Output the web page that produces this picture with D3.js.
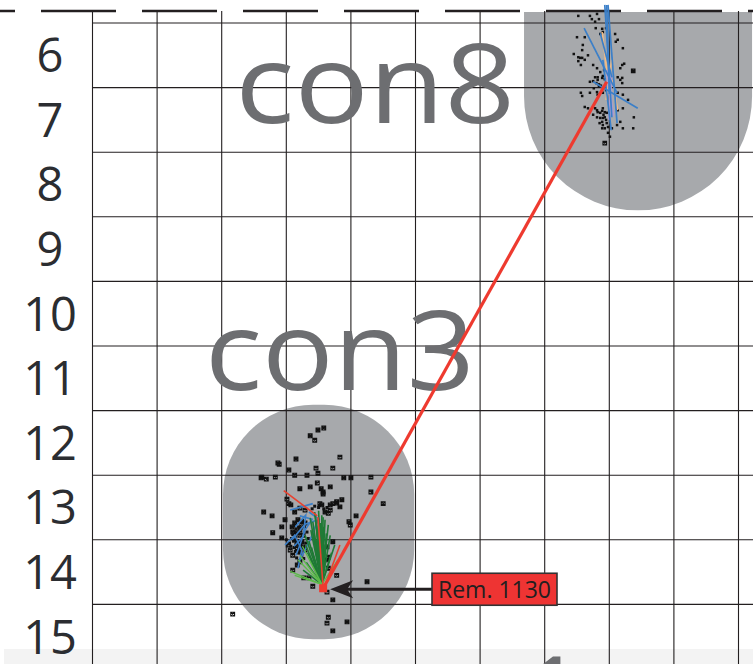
<!DOCTYPE html>
<html>
<head>
<meta charset="utf-8">
<script src="https://cdn.jsdelivr.net/npm/d3@7"></script>
<style>
  body { margin: 0; background: #fff; }
  svg { display: block; font-family: "Open Sans", "DejaVu Sans", sans-serif; }
</style>
</head>
<body>
<div id="chart"></div>
<script>
// grid rows shown on the left, columns are unlabeled (cut off above)
var rowLabels = [6, 7, 8, 9, 10, 11, 12, 13, 14, 15];
var colLines = [0, 1, 2, 3, 4, 5, 6, 7, 8, 9, 10];

// area labels
var areaNames = ["con8", "con3", "con1"];

// con8 cluster : [col, row]
var con8Points = [
  [7.52,5.39],[7.70,5.39],[7.73,5.44],[7.81,5.36],[7.78,5.48],[7.84,5.44],[7.79,5.58],[7.89,5.59],
  [7.95,5.58],[7.90,5.64],[7.86,5.67],[7.50,5.72],[7.62,5.72],[8.09,5.67],[8.13,5.76],[8.10,5.79],
  [7.59,5.84],[7.58,5.92],[8.21,5.89],[7.45,5.98],[7.52,6.03],[7.55,6.04],[7.58,6.04],[7.52,6.09],
  [7.56,6.15],[7.75,6.15],[7.81,6.20],[8.20,6.15],[8.23,6.13],[8.17,6.20],[7.78,6.34],[7.82,6.34],
  [7.89,6.35],[7.90,6.32],[8.13,6.34],[8.20,6.35],[7.70,6.41],[7.75,6.40],[7.82,6.38],[7.93,6.37],
  [8.17,6.38],[8.20,6.43],[7.56,6.58],[7.58,6.63],[7.70,6.58],[7.81,6.57],[7.82,6.61],[7.90,6.58],
  [8.13,6.58],[8.21,6.61],[8.29,6.69],[7.62,6.80],[7.67,6.82],[7.78,6.82],[7.81,6.85],[7.82,6.88],
  [7.86,6.89],[7.89,6.86],[7.90,6.82],[7.93,6.88],[7.96,6.89],[7.75,6.92],[7.81,6.96],[7.86,6.97],
  [7.90,6.97],[7.93,6.96],[8.13,6.85],[8.21,6.82],[8.38,6.96],[7.89,7.03],[7.90,7.08],[7.96,7.05],
  [7.98,7.11],[7.93,7.13],[7.89,7.13],[8.04,7.13],[8.12,7.08],[8.17,7.03],[8.37,7.13],[8.21,7.13],
  [7.98,7.20],[8.01,7.26],[7.86,6.26],[7.92,6.23],[7.84,6.48],[7.76,6.51],[7.95,6.54],[7.67,6.00],
  [7.62,6.07],[7.84,6.45],[7.80,6.43],[7.87,6.47],[7.91,6.92],[7.95,7.00],[7.85,7.05]
];
var con8Crosses = [[8.37,6.24],[7.93,7.36]];

// con8 tracks
var con8Blue = [
  [[7.98,5.22],[8.12,7.05]], [[7.93,5.22],[8.04,6.96]], [[7.61,5.58],[8.12,6.58]],
  [[7.75,6.41],[8.44,6.82]], [[7.86,5.66],[8.04,6.34]], [[7.90,6.07],[8.03,7.16]],
  [[7.96,5.22],[8.00,6.60]]
];
var con8Orange = [
  [[7.89,5.64],[8.01,6.65]], [[8.04,6.07],[7.95,6.69]], [[8.05,6.38],[8.13,6.85]]
];
var con8Violet = [
  [[7.96,6.23],[8.06,6.93]], [[8.03,6.30],[8.00,7.00]], [[7.99,6.45],[8.05,6.95]]
];

// con3 cluster
var con3Points = [
  [3.49,11.80],[3.58,11.77],[3.37,11.89],[3.44,11.96],[2.89,12.33],[3.15,12.25],[3.83,12.22],[3.04,12.42],
  [3.46,12.39],[3.49,12.47],[3.72,12.39],[2.62,12.53],[2.69,12.56],[2.83,12.53],[3.13,12.50],[3.32,12.50],
  [3.89,12.54],[4.00,12.54],[4.31,12.53],[3.21,12.71],[3.37,12.68],[3.48,12.62],[3.54,12.71],[3.57,12.76],
  [3.57,12.79],[3.68,12.68],[4.31,12.76],[3.01,12.87],[3.04,12.94],[3.78,12.91],[3.86,12.88],[3.72,12.94],
  [3.52,12.94],[4.50,12.94],[2.65,13.07],[2.78,13.13],[3.07,12.96],[3.55,12.96],[3.68,12.96],[3.78,12.93],
  [3.83,12.99],[3.60,13.07],[3.65,13.09],[3.68,13.04],[4.08,13.13],[3.97,13.22],[3.99,13.27],[2.93,13.30],
  [3.09,13.30],[3.13,13.24],[3.18,13.19],[3.24,13.26],[3.29,13.24],[2.79,13.39],[3.10,13.38],[3.17,13.39],
  [3.21,13.35],[3.21,13.43],[3.26,13.43],[2.93,13.47],[3.13,13.50],[3.17,13.55],[3.18,13.53],[3.21,13.58],
  [3.24,13.53],[3.26,13.61],[3.17,13.63],[3.21,13.69],[3.29,13.66],[3.72,13.53],[3.63,13.61],[3.10,13.74],
  [3.65,13.77],[3.63,13.81],[3.17,13.89],[3.21,13.84],[3.10,13.97],[3.65,13.94],[3.78,14.05],[3.35,14.09],
  [3.27,14.09],[4.25,14.15],[3.41,14.22],[3.63,14.31],[3.72,14.43],[3.94,14.77],[3.65,14.70],[3.63,14.79],
  [3.72,14.91],[2.17,14.65],[2.87,12.31],[2.61,12.54],[3.21,13.01],[3.29,13.04],[3.13,13.07],[3.03,13.58],
  [3.06,13.66],[2.98,13.19]
];
// dense small dots inside the con3 cluster
var con3Dots = [
  [3.12,13.28],[3.15,13.33],[3.19,13.30],[3.23,13.32],[3.14,13.45],[3.11,13.52],[3.15,13.57],[3.20,13.62],
  [3.08,13.48],[3.05,13.55],[3.12,13.62],[3.19,13.70],[3.24,13.74],[3.16,13.78],[3.27,13.79],[3.30,13.55],
  [3.34,13.48],[3.32,13.38],[3.28,13.30],[3.25,13.20],[3.44,12.98],[3.50,13.00],[3.58,13.02],[3.63,13.00],
  [3.40,13.02],[3.10,13.42],[3.00,13.50],[3.07,13.60],[3.14,13.68]
];

// con3 tracks
var con3Green = [
  [3.37,13.16],[3.44,13.07],[3.49,13.19],[3.55,13.12],[3.60,13.19],[3.65,13.27],[3.68,13.43],[3.38,13.35],
  [3.30,13.58],[3.26,13.97],[3.37,13.81],[3.52,13.35],[3.75,13.58],[3.29,13.43],[3.46,13.50],[3.41,13.22],
  [3.58,13.30],[3.50,13.05],[3.33,13.70],[3.62,13.50],[3.47,13.28],[3.53,13.24],[3.42,13.40],[3.35,13.52],
  [3.57,13.15],[3.45,13.12],[3.39,13.62],[3.62,13.40],[3.31,13.85],[3.70,13.70]
];
var con3LightGreen = [[3.18,13.81],[3.06,13.99],[3.21,13.74],[3.13,14.05],[3.80,13.81],[3.25,13.60]];
var con3Blue = [
  [[3.06,13.04],[3.41,12.94]],
  [[3.21,13.13],[3.40,13.18],[3.29,13.35],[3.21,13.58],[3.15,13.74]],
  [[3.09,13.50],[3.29,13.26],[3.49,13.19],[3.37,13.50],[3.21,13.81]],
  [[2.98,13.58],[3.13,13.43],[3.24,13.66],[3.18,13.94]],
  [[3.35,13.07],[3.52,13.19]],
  [[3.14,13.30],[3.30,13.12],[3.26,13.45],[3.12,13.60]]
];
var con3Red = [
  [[2.96,12.74],[3.48,13.13]],
  [[3.49,13.15],[3.57,14.23]],
  [[3.83,13.58],[3.60,14.21]]
];

// remote track : rem. 1130
var remLabel = "Rem. 1130";
var remFrom = [3.57, 14.25];
var remTo = [7.96, 6.41];

var W = 753, H = 664;

var svg = d3.select("#chart").append("svg")
    .attr("width", W).attr("height", H);

var x = d3.scaleLinear().domain([0, 10]).range([92.5, 738.5]);
var y = d3.scaleLinear().domain([5.5, 15.5]).range([23, 669]);

// light band at the bottom
svg.append("rect")
    .attr("x", 4).attr("y", 649).attr("width", W).attr("height", H - 649)
    .attr("fill", "#f3f3f3");

// gray zones
var r8 = (x(10.21) - x(6.68)) / 2;
var top8 = 12, bot8 = y(8.40);
svg.append("path")
    .attr("d", "M" + x(6.68) + "," + top8 + "H" + x(10.21) + "V" + (bot8 - r8) +
         "A" + r8 + "," + r8 + " 0 0 1 " + x(6.68) + "," + (bot8 - r8) + "Z")
    .attr("fill", "#a7a9ac");

svg.append("rect")
    .attr("x", x(2.02)).attr("y", y(11.41))
    .attr("width", x(4.98) - x(2.02)).attr("height", y(15.04) - y(11.41))
    .attr("rx", 90).attr("ry", 90)
    .attr("fill", "#a7a9ac");

// grid
var g = svg.append("g").attr("stroke", "#231f20").attr("stroke-width", 1.1);
g.selectAll(".v").data(colLines).enter().append("line")
    .attr("x1", function(d) { return x(d); }).attr("x2", function(d) { return x(d); })
    .attr("y1", 11).attr("y2", H);
g.selectAll(".h").data(rowLabels).enter().append("line")
    .attr("x1", x(0)).attr("x2", W)
    .attr("y1", function(d) { return y(d - 0.5); })
    .attr("y2", function(d) { return y(d - 0.5); });

// dashed border on top
svg.append("line")
    .attr("x1", -60).attr("x2", W).attr("y1", 11).attr("y2", 11)
    .attr("stroke", "#231f20").attr("stroke-width", 2.6)
    .attr("stroke-dasharray", "75 26");

// row labels
svg.selectAll(".rowlab").data(rowLabels).enter().append("text")
    .attr("x", 50).attr("y", function(d) { return y(d); })
    .attr("dy", "0.36em")
    .attr("text-anchor", "middle")
    .attr("font-size", 47)
    .attr("fill", "#2b2d31")
    .text(function(d) { return d; });

// big area names
var namePos = [[2.21, 7.05, 280], [1.74, 11.18, 270], [7.62, 16.52, 0]];
areaNames.forEach(function(n, i) {
    var t = svg.append("text")
        .attr("x", x(namePos[i][0])).attr("y", y(namePos[i][1]))
        .attr("font-size", 110)
        .attr("fill", "#6d6e71")
        .text(n);
    if (namePos[i][2]) t.attr("textLength", namePos[i][2]).attr("lengthAdjust", "spacingAndGlyphs");
    else t.attr("text-anchor", "end");
});

// con8 points
function dots(data, s) {
    svg.append("g").selectAll("rect").data(data).enter().append("rect")
        .attr("x", function(d) { return x(d[0]) - s / 2; })
        .attr("y", function(d) { return y(d[1]) - s / 2; })
        .attr("width", s).attr("height", s)
        .attr("fill", "#111");
}
dots(con8Points, 2.5);

function crossMark(sel, data, s) {
    sel.append("g").selectAll("path").data(data).enter().append("path")
        .attr("d", function(d) {
            var cx = x(d[0]), cy = y(d[1]);
            return "M" + (cx - s) + "," + (cy - s) + "h" + 2 * s + "v" + 2 * s + "h" + (-2 * s) + "Z" +
                   "M" + (cx - s) + "," + (cy - s) + "L" + (cx + s) + "," + (cy + s) +
                   "M" + (cx + s) + "," + (cy - s) + "L" + (cx - s) + "," + (cy + s);
        })
        .attr("fill", "none").attr("stroke", "#111").attr("stroke-width", 1.1);
}
crossMark(svg, con8Crosses, 1.8);

// tracks
function segs(data, color, w) {
    svg.append("g").selectAll("path").data(data).enter().append("path")
        .attr("d", d3.line().x(function(d) { return x(d[0]); }).y(function(d) { return y(d[1]); }))
        .attr("fill", "none").attr("stroke", color).attr("stroke-width", w);
}
segs(con8Orange, "#f6bd83", 1.6);
segs(con8Violet, "#ad9bd0", 2.4);
segs(con8Blue, "#3b7fc8", 1.7);

// con3 points
crossMark(svg, con3Points, 1.9);
dots(con3Dots, 3);

// con3 tracks
segs(con3Blue, "#3b7fc8", 1.6);
segs(con3Green.map(function(p) { return [[3.55, 14.19], p]; }), "#1f7a35", 1.6);
segs(con3LightGreen.map(function(p) { return [[3.55, 14.19], p]; }), "#5dbb4a", 1.4);
segs(con3Red, "#e8412f", 1.6);

// remote track
segs([[remFrom, remTo]], "#ee3a2f", 3.2);
svg.append("rect")
    .attr("x", x(remFrom[0]) - 4).attr("y", y(remFrom[1]) - 4)
    .attr("width", 8).attr("height", 8)
    .attr("fill", "#ee3a2f");

// annotation
var tipX = x(remFrom[0]) + 7, ay = y(remFrom[1]) + 1;
var boxL = 432, boxR = 557, boxT = ay - 16, boxB = ay + 16;
svg.append("line")
    .attr("x1", tipX + 14).attr("x2", boxL).attr("y1", ay).attr("y2", ay)
    .attr("stroke", "#231f20").attr("stroke-width", 2.8);
svg.append("path")
    .attr("d", "M" + tipX + "," + ay + "L" + (tipX + 23) + "," + (ay - 9) + "L" + (tipX + 17) + "," + ay +
               "L" + (tipX + 23) + "," + (ay + 9) + "Z")
    .attr("fill", "#231f20");
svg.append("rect")
    .attr("x", boxL).attr("y", boxT).attr("width", boxR - boxL).attr("height", boxB - boxT)
    .attr("fill", "#ee3433").attr("stroke", "#333").attr("stroke-width", 1.6);
svg.append("text")
    .attr("x", (boxL + boxR) / 2).attr("y", ay)
    .attr("dy", "0.36em").attr("text-anchor", "middle")
    .attr("font-size", 23).attr("fill", "#231f20")
    .text(remLabel);
</script>
</body>
</html>
